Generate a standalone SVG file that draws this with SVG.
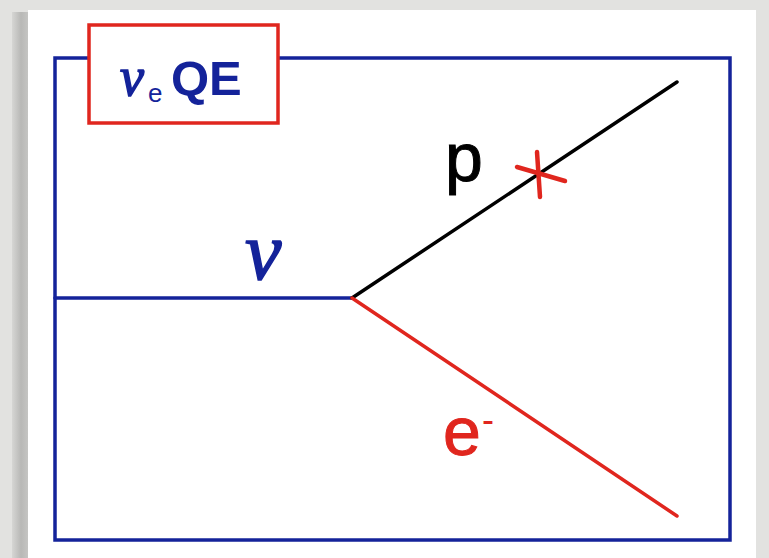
<svg xmlns="http://www.w3.org/2000/svg" width="769" height="558" viewBox="0 0 769 558">
<defs>
<linearGradient id="shl" x1="0" x2="1" y1="0" y2="0">
<stop offset="0" stop-color="#d6d6d4"/><stop offset="0.5" stop-color="#b8b8b6"/><stop offset="1" stop-color="#c8c8c6"/>
</linearGradient>
<style>
.frame{fill:none;stroke:#14239a;stroke-width:3.5}
.tag{fill:#fff;stroke:#e0261e;stroke-width:3.5}
.ln{stroke-width:3.5;stroke-linecap:round;fill:none}
.lbl{font-family:"Liberation Sans",Arial,sans-serif}
.greek{font-family:"Liberation Serif","DejaVu Serif",serif;font-style:italic;stroke:#14239a;stroke-width:1.5}
</style>
</defs>
<rect x="0" y="0" width="769" height="558" fill="#e2e2e0"/>
<rect x="12" y="12" width="18" height="546" fill="url(#shl)"/>
<rect x="28" y="10" width="728" height="548" fill="#ffffff"/>
<rect x="55" y="58" width="675" height="482" class="frame"/>
<g id="connectors">
<line x1="55" y1="298" x2="352" y2="298" class="ln" stroke="#14239a" stroke-linecap="butt"/>
<line x1="352" y1="298" x2="677" y2="82" class="ln" stroke="#000000"/>
<line x1="352" y1="298" x2="677" y2="516" class="ln" stroke="#e0261e"/>
</g>
<g id="title">
<rect x="89" y="25" width="189" height="98" class="tag"/>
<text x="120" y="95" class="greek" font-size="54" fill="#14239a">ν</text>
<text x="148" y="102" class="lbl" font-size="26" fill="#14239a">e</text>
<text x="171" y="95" class="lbl" font-size="49" font-weight="bold" fill="#14239a">QE</text>
</g>
<g id="nu">
<text x="245" y="279" class="greek" font-size="82" fill="#14239a">ν</text>
</g>
<g id="proton">
<text x="445" y="181" class="lbl" font-size="68" fill="#000000" stroke="#000" stroke-width="1">p</text>
<g id="cross" stroke="#e0261e" stroke-width="4.5" stroke-linecap="round">
<line x1="517" y1="167" x2="565" y2="181"/>
<line x1="537" y1="152" x2="540" y2="197"/>
</g>
</g>
<g id="electron">
<text x="443" y="455" class="lbl" font-size="68" fill="#e0261e" stroke="#e0261e" stroke-width="1">e</text>
<text x="482" y="432" class="lbl" font-size="36" fill="#e0261e">-</text>
</g>
</svg>
